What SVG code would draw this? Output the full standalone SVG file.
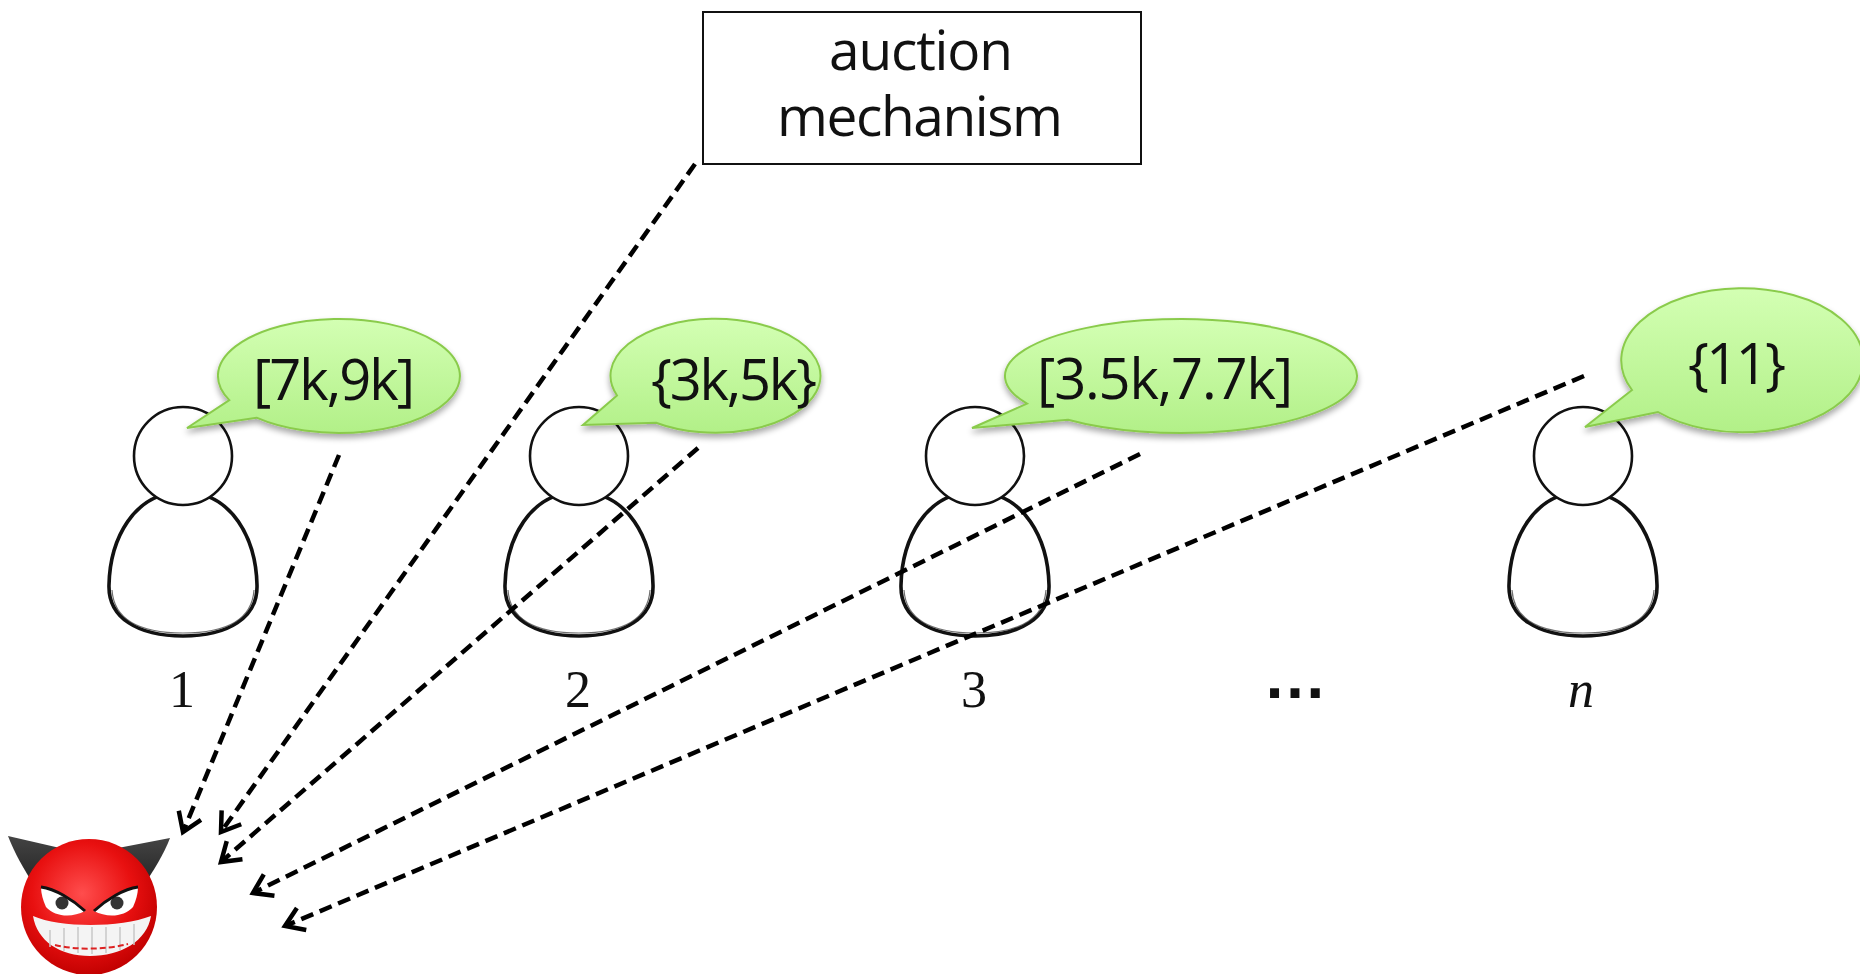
<svg xmlns="http://www.w3.org/2000/svg" width="1860" height="974" viewBox="0 0 1860 974">
  <defs>
    <style>
      .bubble { fill: url(#bubbleFill); stroke: #8acb4c; stroke-width: 2; filter: url(#softShadow); }
      .btext { font-family: "Open Sans", "Liberation Sans", sans-serif; font-size: 56px; fill: #111; text-anchor: middle; }
      .boxtext { font-family: "Open Sans", "Liberation Sans", sans-serif; font-size: 55px; fill: #111; text-anchor: middle; }
      .idx { font-family: "Liberation Serif", "DejaVu Serif", serif; font-size: 52px; fill: #111; text-anchor: middle; }
      .head { fill: #fff; stroke: #111; stroke-width: 2.6; }
      .body { fill: #fff; stroke: #111; stroke-width: 3.6; }
      .body2 { fill: none; stroke: #333; stroke-width: 1.2; opacity: 0.7; }
      .conn { fill: none; stroke: #000; stroke-width: 4.5; stroke-dasharray: 13 7; marker-end: url(#vhead); }
    </style>
    <linearGradient id="bubbleFill" x1="0" y1="0" x2="0" y2="1">
      <stop offset="0" stop-color="#d3ffb3"/>
      <stop offset="1" stop-color="#b2f088"/>
    </linearGradient>
    <filter id="softShadow" x="-10%" y="-10%" width="120%" height="140%">
      <feGaussianBlur in="SourceAlpha" stdDeviation="3"/>
      <feOffset dx="0" dy="4" result="b"/>
      <feComponentTransfer><feFuncA type="linear" slope="0.35"/></feComponentTransfer>
      <feMerge><feMergeNode/><feMergeNode in="SourceGraphic"/></feMerge>
    </filter>
    <radialGradient id="faceFill" cx="0.45" cy="0.4" r="0.62">
      <stop offset="0" stop-color="#ff4d4d"/>
      <stop offset="0.6" stop-color="#e81010"/>
      <stop offset="1" stop-color="#c00000"/>
    </radialGradient>
    <linearGradient id="hornFill" x1="0" y1="0" x2="0" y2="1">
      <stop offset="0" stop-color="#444"/>
      <stop offset="1" stop-color="#222"/>
    </linearGradient>
    <marker id="vhead" markerUnits="userSpaceOnUse" markerWidth="40" markerHeight="40" refX="0" refY="0" viewBox="-24 -20 30 40" orient="auto">
      <path d="M -18 -12 L 0 0 L -18 12" fill="none" stroke="#000" stroke-width="4.5" stroke-linejoin="miter"/>
    </marker>
  </defs>

  <rect width="1860" height="974" fill="#fff"/>

  <!-- mechanism box -->
  <g id="mechanism">
    <rect x="703" y="12" width="438" height="152" fill="#fff" stroke="#111" stroke-width="2"/>
    <text class="boxtext" x="921" y="70" textLength="184">auction</text>
    <text class="boxtext" x="920" y="136" textLength="286">mechanism</text>
  </g>

  <!-- bidders -->
  <g id="bidder1">
    <path class="body" d="M183,492 C233,492 256,540 257,585 C258,618 228,636 183,636 C138,636 108,618 109,585 C110,540 133,492 183,492 Z"/>
    <path class="body2" d="M112,590 C114,620 140,633 183,633 C226,633 252,620 254,590"/>
    <circle class="head" cx="183" cy="456" r="49"/>
    <text class="idx" x="182" y="707">1</text>
  </g>
  <g id="bidder2">
    <path class="body" d="M579,492 C629,492 652,540 653,585 C654,618 624,636 579,636 C534,636 504,618 505,585 C506,540 529,492 579,492 Z"/>
    <path class="body2" d="M508,590 C510,620 536,633 579,633 C622,633 648,620 650,590"/>
    <circle class="head" cx="579" cy="456" r="49"/>
    <text class="idx" x="578" y="707">2</text>
  </g>
  <g id="bidder3">
    <path class="body" d="M975,492 C1025,492 1048,540 1049,585 C1050,618 1020,636 975,636 C930,636 900,618 901,585 C902,540 925,492 975,492 Z"/>
    <path class="body2" d="M904,590 C906,620 932,633 975,633 C1018,633 1044,620 1046,590"/>
    <circle class="head" cx="975" cy="456" r="49"/>
    <text class="idx" x="974" y="707">3</text>
  </g>
  <g id="ellipsis">
    <text x="1295" y="698" font-family="Liberation Sans, sans-serif" font-weight="bold" font-size="64" text-anchor="middle" fill="#111">…</text>
  </g>
  <g id="biddern">
    <path class="body" d="M1583,492 C1633,492 1656,540 1657,585 C1658,618 1628,636 1583,636 C1538,636 1508,618 1509,585 C1510,540 1533,492 1583,492 Z"/>
    <path class="body2" d="M1512,590 C1514,620 1540,633 1583,633 C1626,633 1652,620 1654,590"/>
    <circle class="head" cx="1583" cy="456" r="49"/>
    <text class="idx" x="1581" y="707" font-style="italic">n</text>
  </g>

  <!-- speech bubbles -->
  <g id="bubble1">
    <path class="bubble" d="M229.3,400.1 L187,428 L256.5,417.7 A121 57 0 1 0 229.3,400.1 Z"/>
    <text class="btext" x="334" y="400" textLength="162">[7k,9k]</text>
  </g>
  <g id="bubble2">
    <path class="bubble" d="M617,395.5 L583,425 L656,422.7 A105 57 0 1 0 617,395.5 Z"/>
    <text class="btext" x="734" y="400" textLength="166">{3k,5k}</text>
  </g>
  <g id="bubble3">
    <path class="bubble" d="M1027,403.6 L972,428 L1068,419.7 A176 57 0 1 0 1027,403.6 Z"/>
    <text class="btext" x="1165" y="399" textLength="256">[3.5k,7.7k]</text>
  </g>
  <g id="bubblen">
    <path class="bubble" d="M1632,390 L1585,427 L1658,412 A121 72 0 1 0 1632,390 Z"/>
    <text class="btext" x="1737" y="384" textLength="98">{11}</text>
  </g>

  <!-- adversary -->
  <g id="adversary">
    <path d="M8,836 L60,848 L58,882 L36,888 C24,870 14,852 8,836 Z" fill="url(#hornFill)"/>
    <path d="M170,838 L118,848 L120,882 L142,888 C154,870 164,854 170,838 Z" fill="url(#hornFill)"/>
    <circle cx="89" cy="907" r="68" fill="url(#faceFill)"/>
    <!-- eyes -->
    <path d="M41,887 C55,889 72,899 85,911 C72,918 55,917 46,907 C43,900 41,894 41,887 Z" fill="#fff"/>
    <path d="M138,887 C124,889 107,899 94,911 C107,918 124,917 133,907 C136,900 138,894 138,887 Z" fill="#fff"/>
    <circle cx="62" cy="903" r="6.5" fill="#333"/>
    <circle cx="117" cy="903" r="6.5" fill="#333"/>
    <path d="M41,887 C55,889 72,899 85,911" fill="none" stroke="#111" stroke-width="3"/>
    <path d="M138,887 C124,889 107,899 94,911" fill="none" stroke="#111" stroke-width="3"/>
    <!-- grin -->
    <path d="M33,916 C60,928 120,928 151,916 C147,941 121,956 90,956 C60,956 37,941 33,916 Z" fill="#f4f4f4"/>
    <path d="M50,930 L50,947 M64,928 L64,951 M78,927 L78,953 M92,927 L92,954 M106,927 L106,953 M120,927 L120,950 M134,924 L134,945" stroke="#c8c8c8" stroke-width="1.5"/>
    <path d="M55,945 C75,950 105,950 128,944" fill="none" stroke="#d22" stroke-width="2" stroke-dasharray="6 3"/>
  </g>

  <!-- connectors -->
  <g id="connectors">
    <line class="conn" x1="339" y1="455" x2="183" y2="832"/>
    <line class="conn" x1="695" y1="164" x2="221" y2="832"/>
    <line class="conn" x1="698" y1="448" x2="221" y2="862"/>
    <line class="conn" x1="1140" y1="454" x2="253" y2="893"/>
    <line class="conn" x1="1584" y1="376" x2="285" y2="926"/>
  </g>
</svg>
